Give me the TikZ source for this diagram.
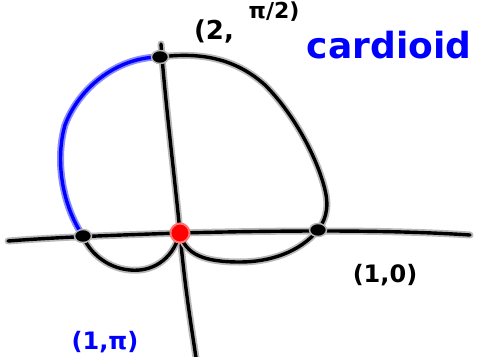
\documentclass[tikz,border=0pt]{standalone}
\usepackage{fontspec}
\setmainfont{DejaVu Sans}
\usetikzlibrary{shapes.geometric}
\begin{document}
\begin{tikzpicture}[x=1pt,y=-1pt,
  ink/.style={line width=3.4pt,line cap=round,line join=round,black,
    preaction={draw,gray!55,line width=7pt,line cap=round,line join=round}},
  blueink/.style={line width=3.4pt,line cap=round,line join=round,blue,
    preaction={draw,blue!45,line width=7pt,line cap=round,line join=round}},
  dot/.style={ellipse,fill=black,draw=gray!60,line width=1.5pt,minimum width=17pt,minimum height=13pt,inner sep=0pt},
  reddot/.style={circle,fill=red,draw=red!55,line width=2pt,minimum size=19pt,inner sep=0pt},
  lab/.style={inner sep=0pt,text=black},
  bluelab/.style={inner sep=0pt,text=blue}]
\useasboundingbox (0,0) rectangle (478,356);
\coordinate (xl) at (8,241);
\coordinate (xr) at (470,235);
\coordinate (yt) at (161,44);
\coordinate (yb) at (196,358);
% axes
\draw[ink] (xl) .. controls (60,237) and (120,235) .. (180,233) .. controls (260,231) and (380,229) .. (xr);
\draw[ink] (yt) .. controls (165,100) and (175,180) .. (180,233) .. controls (185,290) and (192,330) .. (yb);
% points (coordinates)
\coordinate (T) at (160,57);
\coordinate (L) at (83,236);
\coordinate (R) at (318,230);
\coordinate (O) at (180,233);
% upper right arc
\draw[ink] (T) .. controls (200,52) and (235,58) .. (265,85)
  .. controls (295,115) and (318,160) .. (325,190)
  .. controls (330,210) and (324,222) .. (R);
% lower right loop
\draw[ink] (R) .. controls (300,252) and (270,262) .. (240,262)
  .. controls (205,262) and (185,255) .. (O);
% lower left loop
\draw[ink] (O) .. controls (172,262) and (150,272) .. (130,270)
  .. controls (105,268) and (88,250) .. (L);
% blue arc
\draw[blueink] (L) .. controls (62,205) and (55,160) .. (65,125)
  .. controls (78,90) and (115,57) .. (T);
% dots
\node[dot] (pT) at (T) {};
\node[dot] (pL) at (L) {};
\node[dot] (pR) at (R) {};
\node[reddot] (pO) at (O) {};
% labels
\node[lab,font=\bfseries\fontsize{26}{26}\selectfont] (l1) at (214,31) {(2,};
\node[lab,font=\bfseries\fontsize{22}{22}\selectfont] (l2) at (274,12) {π/2)};
\node[bluelab,font=\bfseries\fontsize{36}{36}\selectfont] (l3) at (389,45) {cardioid};
\node[lab,font=\bfseries\fontsize{24}{24}\selectfont] (l4) at (385,275) {(1,0)};
\node[bluelab,font=\bfseries\fontsize{24}{24}\selectfont] (l5) at (105,342) {(1,π)};
\end{tikzpicture}
\end{document}
